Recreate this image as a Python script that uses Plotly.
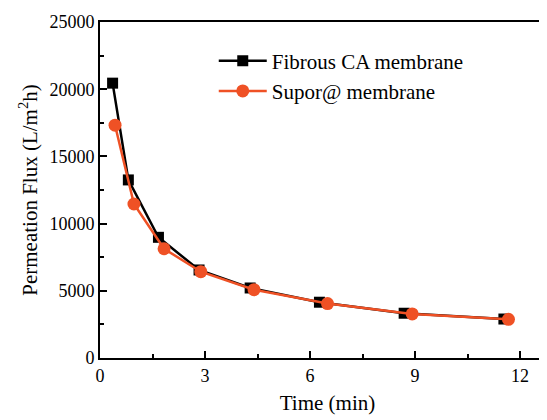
import plotly.graph_objects as go

ca_time = [0.36, 0.81, 1.67, 2.83, 4.29, 6.27, 8.69, 11.54]
ca_flux = [20450, 13250, 8980, 6550, 5210, 4150, 3330, 2900]
supor_time = [0.43, 0.97, 1.83, 2.88, 4.40, 6.50, 8.92, 11.67]
supor_flux = [17320, 11460, 8130, 6420, 5080, 4050, 3280, 2880]

x_ticks = [0, 3, 6, 9, 12]
y_ticks = [0, 5000, 10000, 15000, 20000, 25000]

font = "Liberation Serif"

fig = go.Figure()
fig.add_trace(go.Scatter(
    x=ca_time, y=ca_flux, mode="lines+markers", name="Fibrous CA membrane",
    line=dict(color="black", width=2.5),
    marker=dict(symbol="square", size=11, color="black"),
))
fig.add_trace(go.Scatter(
    x=supor_time, y=supor_flux, mode="lines+markers", name="Supor@ membrane",
    line=dict(color="#EF5125", width=2.5),
    marker=dict(symbol="circle", size=13, color="#EF5125"),
))

fig.update_layout(
    width=547, height=420,
    margin=dict(l=92, r=0, t=14, b=70),
    paper_bgcolor="white", plot_bgcolor="white",
    font=dict(family=font, size=18, color="black"),
    showlegend=True,
    legend=dict(x=0.25, y=0.945, xanchor="left", yanchor="top",
                font=dict(family=font, size=21), itemwidth=48,
                bgcolor="rgba(0,0,0,0)", tracegroupgap=0),
    xaxis=dict(
        range=[0, 13.0], tickvals=x_ticks, ticktext=[str(v) for v in x_ticks],
        showline=True, linecolor="black", linewidth=2, mirror=True,
        ticks="inside", ticklen=7, tickwidth=2, tickcolor="black",
        minor=dict(dtick=1.5, tick0=0, ticks="inside", ticklen=4, tickwidth=2, tickcolor="black"),
        showgrid=False, zeroline=False,
        title=dict(text="Time (min)", font=dict(family=font, size=21), standoff=11),
        tickfont=dict(family=font, size=18),
    ),
    yaxis=dict(
        range=[0, 25000], tickvals=y_ticks, ticktext=[str(v) for v in y_ticks],
        showline=True, linecolor="black", linewidth=2, mirror=False,
        ticks="inside", ticklen=7, tickwidth=2, tickcolor="black",
        minor=dict(dtick=2500, tick0=0, ticks="inside", ticklen=4, tickwidth=2, tickcolor="black"),
        showgrid=False, zeroline=False,
        title=dict(text="Permeation Flux (L/m<sup>2</sup>h)", font=dict(family=font, size=21), standoff=6),
        tickfont=dict(family=font, size=18),
    ),
)

fig.write_html("out.html")
